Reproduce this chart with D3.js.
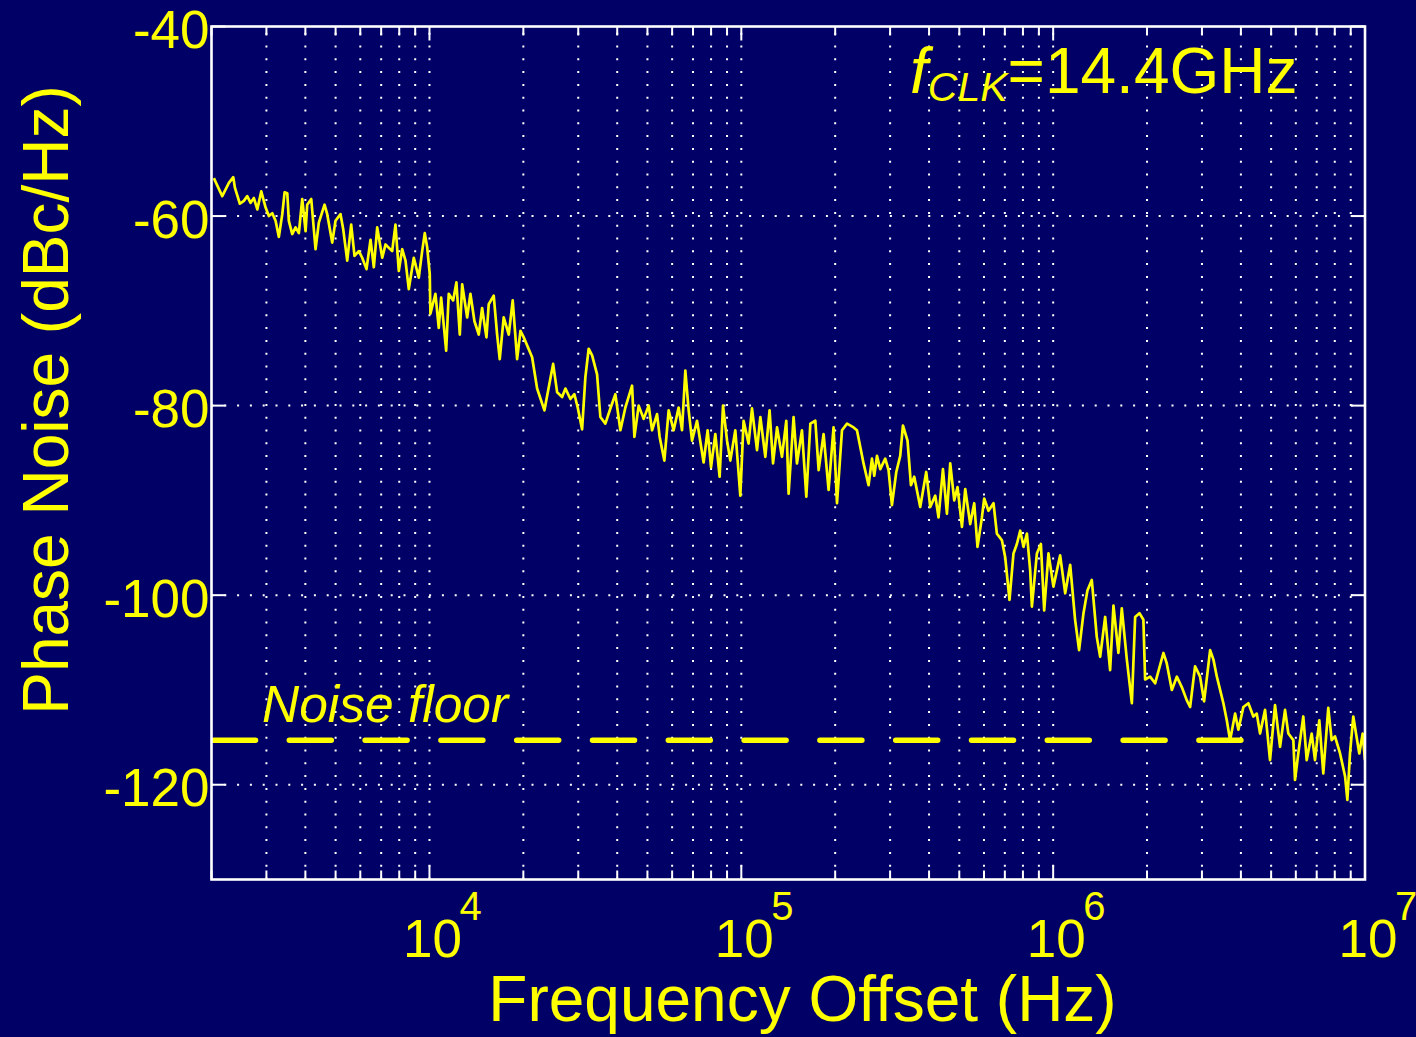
<!DOCTYPE html>
<html>
<head>
<meta charset="utf-8">
<script src="https://cdn.jsdelivr.net/npm/d3@7"></script>
<style>
  html, body { margin: 0; padding: 0; background: #000066; }
  svg { display: block; font-family: Arial, "Liberation Sans", sans-serif; }
</style>
</head>
<body>
<div id="container"></div>
<script>
/* CONSTANTS AND GLOBALS */
const width = 1416;
const height = 1037;
const bgColor = "#000066";
const yellow = "#ffff00";

/* DATA */
const freqHz = [
  2035, 2165, 2274, 2349, 2377, 2466, 2540, 2604, 2669, 2735,
  2805, 2888, 2982, 3055, 3133, 3210, 3289, 3373, 3431, 3500,
  3540, 3630, 3720, 3812, 3908, 4006, 4055, 4177, 4312, 4418,
  4608, 4700, 4877, 4997, 5185, 5290, 5448, 5610, 5749, 5935,
  6085, 6282, 6471, 6631, 6799, 7055, 7228, 7593, 7780, 7973,
  8176, 8378, 8584, 8907, 9241, 9475, 9659, 9831, 10020, 10070,
  10450, 10710, 10900, 11310, 11530, 11910, 12200, 12510, 12730, 13210,
  13530, 13940, 14390, 14750, 15230, 15490, 16070, 16480, 16800, 17300,
  17960, 18490, 19100, 19580, 20060, 21340, 22140, 23370, 24920, 25670,
  26630, 27290, 28310, 29160, 29880, 30860, 31620, 32400, 33230, 34470,
  35320, 36650, 38030, 39460, 40950, 42480, 44640, 45410, 46870, 48630,
  50460, 51730, 53680, 54720, 56650, 58480, 60670, 62950, 64550, 66150,
  67780, 69500, 72110, 75710, 77980, 79960, 82540, 85200, 87370, 90000,
  92200, 95670, 99260, 101700, 105500, 108200, 112300, 115100, 119400, 123200,
  126400, 130200, 135000, 139400, 141800, 147100, 150800, 156500, 161600, 166500,
  172700, 177000, 183600, 190500, 197600, 202700, 210300, 218300, 229100, 234900,
  246600, 255900, 262400, 266900, 272300, 279000, 289400, 296600, 304100, 314000,
  323300, 329800, 341200, 349900, 358500, 374800, 391700, 403500, 418700, 429000,
  443200, 456400, 467700, 481700, 493600, 509900, 522400, 542000, 558300, 572000,
  590900, 601000, 620400, 643700, 660000, 684900, 701800, 724400, 746100, 765100,
  784000, 803400, 823800, 844100, 854700, 886900, 913400, 935900, 966100, 1002000,
  1053000, 1093000, 1134000, 1176000, 1211000, 1251000, 1288000, 1330000, 1380000, 1415000,
  1468000, 1523000, 1561000, 1619000, 1660000, 1723000, 1788000, 1832000, 1891000, 1947000,
  1972000, 2046000, 2123000, 2257000, 2314000, 2402000, 2492000, 2585000, 2683000, 2749000,
  2852000, 2959000, 3048000, 3187000, 3266000, 3349000, 3515000, 3604000, 3693000, 3832000,
  3926000, 4074000, 4227000, 4385000, 4497000, 4608000, 4781000, 4960000, 5146000, 5341000,
  5541000, 5678000, 5891000, 5964000, 6111000, 6341000, 6502000, 6747000, 6913000, 7136000,
  7349000, 7625000, 7819000, 8011000, 8318000, 8631000, 8779000, 8951000, 9172000, 9358000,
  9588000, 9831000, 10000000
];
const phaseNoiseDb = [
  -56.0, -57.9, -56.5, -55.9, -57.0, -58.7, -58.4, -57.9, -58.6, -58.1,
  -59.3, -57.4, -59.1, -60.0, -59.7, -60.5, -62.2, -59.8, -57.5, -57.6,
  -60.5, -61.9, -61.2, -61.8, -58.2, -61.6, -58.8, -58.2, -63.5, -60.7,
  -58.8, -59.8, -62.8, -60.5, -59.8, -61.4, -64.7, -60.9, -64.2, -63.7,
  -64.4, -65.6, -62.5, -65.4, -61.2, -64.4, -63.0, -63.7, -60.9, -65.8,
  -63.5, -64.7, -67.7, -64.4, -66.5, -63.7, -61.8, -63.3, -66.1, -70.3,
  -68.2, -71.8, -68.6, -74.2, -68.2, -68.9, -67.0, -72.5, -67.2, -70.7,
  -68.2, -71.1, -72.5, -69.7, -72.8, -69.3, -68.4, -72.5, -75.1, -70.7,
  -72.5, -68.9, -75.1, -72.1, -72.8, -74.9, -78.2, -80.5, -75.6, -78.6,
  -79.1, -78.2, -79.3, -78.8, -80.2, -82.5, -77.0, -74.0, -74.7, -76.7,
  -81.2, -81.9, -80.3, -78.8, -82.6, -80.2, -77.9, -83.3, -80.0, -81.4,
  -80.0, -82.6, -80.9, -83.3, -85.8, -80.5, -82.6, -80.2, -82.6, -76.3,
  -80.5, -83.7, -81.6, -86.0, -82.6, -86.5, -83.0, -87.5, -80.0, -83.7,
  -85.8, -82.6, -89.5, -81.6, -84.0, -80.3, -84.7, -81.2, -85.4, -80.5,
  -86.1, -82.3, -85.4, -81.6, -89.3, -81.2, -86.1, -82.6, -89.6, -81.9,
  -81.6, -86.8, -83.0, -88.9, -82.3, -90.3, -82.6, -81.9, -82.3, -82.6,
  -86.1, -88.4, -85.6, -87.4, -85.3, -86.7, -85.6, -86.8, -90.5, -87.0,
  -85.3, -82.1, -83.7, -88.4, -87.5, -90.7, -87.0, -90.7, -89.5, -91.8,
  -86.7, -91.4, -86.1, -90.0, -88.6, -92.8, -88.8, -92.5, -90.3, -94.9,
  -91.8, -89.8, -91.1, -90.3, -93.5, -94.2, -96.0, -100.5, -95.6, -94.6,
  -93.2, -94.9, -93.5, -97.4, -101.2, -95.6, -94.6, -101.6, -95.6, -99.1,
  -95.8, -99.8, -96.8, -102.6, -105.8, -101.9, -99.5, -98.4, -104.4, -106.5,
  -102.3, -107.9, -101.1, -106.1, -101.4, -106.8, -111.4, -102.3, -101.9, -102.6,
  -108.9, -108.6, -109.3, -106.1, -107.2, -110.0, -108.6, -109.7, -111.1, -111.8,
  -107.5, -108.6, -111.2, -105.8, -106.8, -108.6, -111.4, -113.2, -115.3, -112.5,
  -114.2, -111.8, -111.4, -112.8, -112.5, -114.6, -112.1, -117.4, -111.6, -116.0,
  -112.1, -114.6, -115.3, -119.5, -116.7, -112.8, -117.4, -114.6, -117.4, -113.2,
  -118.8, -111.9, -115.3, -114.9, -116.7, -119.1, -121.6, -116.7, -112.8, -114.6,
  -116.7, -114.6, -117.4
];

const yTickValues = [-40, -60, -80, -100, -120];
const yTickLabels = ["-40", "-60", "-80", "-100", "-120"];
const xMajorValues = [1e4, 1e5, 1e6, 1e7];
const xMajorExponents = ["4", "5", "6", "7"];
const noiseFloorDb = -115.3;
const noiseFloorFreq = [2000, 4.04e6];

/* SVG */
const svg = d3.select("#container")
  .append("svg")
  .attr("width", width)
  .attr("height", height)

svg.append("rect")
  .attr("width", width)
  .attr("height", height)
  .attr("fill", bgColor)

/* SCALES */
const xScale = d3.scaleLog()
  .domain([2000, 1e7])
  .range([211.5, 1365])

const yScale = d3.scaleLinear()
  .domain([-130, -40])
  .range([879.5, 26.5])

const [x0, x1] = xScale.range();
const [yBottom, yTop] = yScale.range();

// every decade step (2k,3k,...,9M) sits on a dotted grid line
const xAllTicks = xScale.ticks().filter(d => d > 2000 && d < 1e7);
const xMinorTicks = xScale.ticks().filter(d => !xMajorValues.includes(d));

/* GRID */
const grid = svg.append("g")
  .attr("stroke", "#ffffff")
  .attr("stroke-width", 2)
  .attr("stroke-dasharray", "2,10.8")

grid.selectAll("line.vgrid")
  .data(xAllTicks)
  .join("line")
  .attr("class", "vgrid")
  .attr("x1", d => xScale(d))
  .attr("x2", d => xScale(d))
  .attr("y1", yBottom)
  .attr("y2", yTop)

grid.selectAll("line.hgrid")
  .data(yTickValues.filter(d => d > -130 && d < -40))
  .join("line")
  .attr("class", "hgrid")
  .attr("x1", x0)
  .attr("x2", x1)
  .attr("y1", d => yScale(d))
  .attr("y2", d => yScale(d))

/* TRACE */
svg.append("clipPath")
  .attr("id", "plot-clip")
  .append("rect")
  .attr("x", x0)
  .attr("y", yTop)
  .attr("width", x1 - x0)
  .attr("height", yBottom - yTop)

const line = d3.line()
  .x((d, i) => xScale(freqHz[i]))
  .y(d => yScale(d))

svg.append("path")
  .datum(phaseNoiseDb)
  .attr("clip-path", "url(#plot-clip)")
  .attr("fill", "none")
  .attr("stroke", yellow)
  .attr("stroke-width", 2.7)
  .attr("stroke-linejoin", "round")
  .attr("d", line)

// noise floor dashed line
svg.append("line")
  .attr("x1", xScale(noiseFloorFreq[0]) + 2)
  .attr("x2", xScale(noiseFloorFreq[1]))
  .attr("y1", yScale(noiseFloorDb))
  .attr("y2", yScale(noiseFloorDb))
  .attr("stroke", yellow)
  .attr("stroke-width", 5.5)
  .attr("stroke-linecap", "round")
  .attr("stroke-dasharray", "42,33.8")

/* AXES BOX + TICKS (inside, matlab style) */
const ticks = svg.append("g")
  .attr("stroke", "#ffffff")
  .attr("stroke-width", 2)

// bottom + top
ticks.selectAll("line.xminor")
  .data(xMinorTicks.flatMap(d => [[d, yBottom, -9], [d, yTop, 9]]))
  .join("line")
  .attr("class", "xminor")
  .attr("x1", d => xScale(d[0]))
  .attr("x2", d => xScale(d[0]))
  .attr("y1", d => d[1])
  .attr("y2", d => d[1] + d[2])

ticks.selectAll("line.xmajor")
  .data(xMajorValues.flatMap(d => [[d, yBottom, -14], [d, yTop, 14]]))
  .join("line")
  .attr("class", "xmajor")
  .attr("x1", d => xScale(d[0]))
  .attr("x2", d => xScale(d[0]))
  .attr("y1", d => d[1])
  .attr("y2", d => d[1] + d[2])

ticks.selectAll("line.ytick")
  .data(yTickValues.flatMap(d => [[d, x0, 14], [d, x1, -14]]))
  .join("line")
  .attr("class", "ytick")
  .attr("x1", d => d[1])
  .attr("x2", d => d[1] + d[2])
  .attr("y1", d => yScale(d[0]))
  .attr("y2", d => yScale(d[0]))

svg.append("rect")
  .attr("x", x0)
  .attr("y", yTop)
  .attr("width", x1 - x0)
  .attr("height", yBottom - yTop)
  .attr("fill", "none")
  .attr("stroke", "#ffffff")
  .attr("stroke-width", 2.6)

/* TEXT */
svg.selectAll("text.ylab")
  .data(yTickValues)
  .join("text")
  .attr("class", "ylab")
  .attr("x", 209.5)
  .attr("y", d => yScale(d) + 21.5)
  .attr("text-anchor", "end")
  .attr("fill", yellow)
  .style("font-size", "53px")
  .text((d, i) => yTickLabels[i])

svg.selectAll("text.xlab")
  .data(xMajorValues)
  .join("text")
  .attr("class", "xlab")
  .attr("x", d => xScale(d) + 3)
  .attr("y", 957)
  .attr("text-anchor", "middle")
  .attr("fill", yellow)
  .style("font-size", "53px")
  .text("10")

svg.selectAll("text.xexp")
  .data(xMajorValues)
  .join("text")
  .attr("class", "xexp")
  .attr("x", d => xScale(d) + 30)
  .attr("y", 920)
  .attr("fill", yellow)
  .style("font-size", "40px")
  .text((d, i) => xMajorExponents[i])

svg.append("text")
  .attr("x", 802.5)
  .attr("y", 1021)
  .attr("text-anchor", "middle")
  .attr("fill", yellow)
  .style("font-size", "64px")
  .text("Frequency Offset (Hz)")

svg.append("text")
  .attr("transform", "translate(68,400) rotate(-90)")
  .attr("text-anchor", "middle")
  .attr("fill", yellow)
  .style("font-size", "64px")
  .text("Phase Noise (dBc/Hz)")

// f_CLK annotation
const fclk = svg.append("text")
  .attr("x", 910)
  .attr("y", 93)
  .attr("fill", yellow)
  .style("font-size", "64px")
fclk.append("tspan").style("font-style", "italic").text("f")
fclk.append("tspan").style("font-style", "italic").style("font-size", "41px").attr("dy", 8).text("CLK")
fclk.append("tspan").attr("dy", -8).text("=14.4GHz")

svg.append("text")
  .attr("x", 262)
  .attr("y", 722)
  .attr("fill", yellow)
  .style("font-size", "51.5px")
  .style("font-style", "italic")
  .text("Noise floor")
</script>
</body>
</html>
